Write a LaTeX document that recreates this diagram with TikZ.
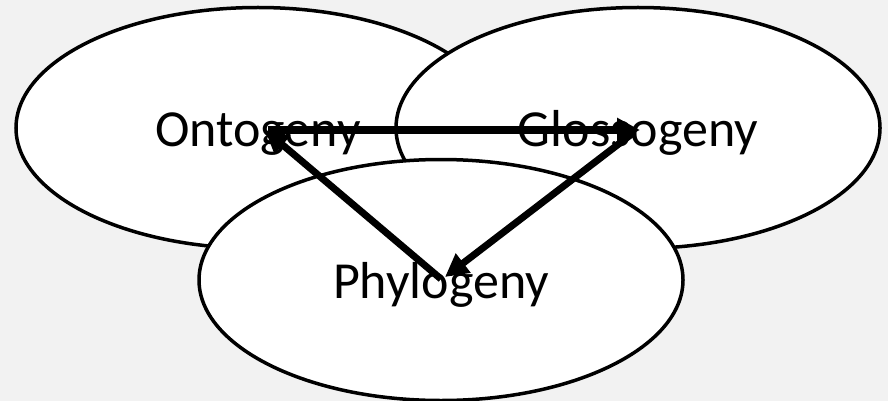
\documentclass[tikz,border=0pt]{standalone}
\usepackage{fontspec}
\setmainfont{Carlito}
\usetikzlibrary{shapes.geometric,arrows.meta}
\definecolor{bggray}{HTML}{F2F2F2}
\tikzset{
  ell/.style={ellipse, draw=black, fill=white, line width=3.5pt, inner sep=0pt,
    minimum width=484pt, minimum height=241pt,
    font=\fontsize{52}{60}\selectfont, text height=37pt, text depth=0pt},
  arr/.style={line width=7pt, -{Triangle[length=23pt,width=23pt]}}
}
\begin{document}
\begin{tikzpicture}[x=1pt,y=-1pt]
\fill[bggray] (0,0) rectangle (888,401);
\useasboundingbox (0,0) rectangle (888,401);
\node[ell] (onto) at (258,128) {Ontogeny};
\node[ell] (glos) at (638,128) {Glossogeny};
\node[ell] (phyl) at (441,280) {Phylogeny};
\coordinate (o1) at (268,130);
\coordinate (g1) at (640,130);
\coordinate (g2) at (633,133);
\coordinate (p1) at (445,277);
\coordinate (p2) at (441,279);
\coordinate (o2) at (265,130);
\draw[arr] (o1) -- (g1);
\draw[arr] (g2) -- (p1);
\draw[arr] (p2) -- (o2);
\end{tikzpicture}
\end{document}
